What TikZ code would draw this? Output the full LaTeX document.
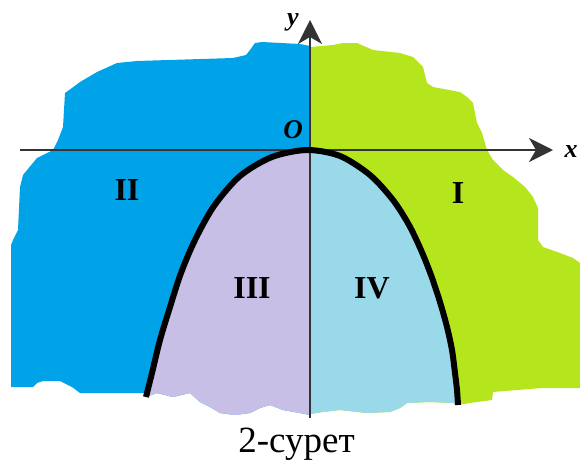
\documentclass[tikz,border=0pt]{standalone}
\usepackage{fontspec}
\setmainfont{Liberation Serif}
\usetikzlibrary{arrows.meta}
\definecolor{cblue}{RGB}{0,162,232}
\definecolor{cgreen}{RGB}{181,230,29}
\definecolor{clav}{RGB}{200,191,231}
\definecolor{cltb}{RGB}{153,217,234}
\tikzset{
  axisline/.style={draw=black!80, line width=2pt, -{Stealth[length=24pt,width=24pt,inset=7pt]}},
  curveline/.style={draw=black, line width=6pt},
  roman/.style={font=\fontsize{32}{34}\selectfont\bfseries, inner sep=0pt},
  axlabel/.style={font=\fontsize{26}{28}\selectfont\bfseries\itshape, inner sep=0pt},
}
\newcommand{\leftcurve}{(146,397) (152,373) (160,340) (170,307) (181,273) (195,240) (214,206) (240,176) (272,157) (307,150)}
\newcommand{\rightcurve}{(307,150) (340,156) (370,175) (393,200) (409,225) (421,250) (431,275) (440,302) (447,327) (452,350) (455,373) (457,390) (458,405)}
\newcommand{\wholecurve}{(146,397) (152,373) (160,340) (170,307) (181,273) (195,240) (214,206) (240,176) (272,157) (307,150) (340,156) (370,175) (393,200) (409,225) (421,250) (431,275) (440,302) (447,327) (452,350) (455,373) (457,390) (458,405)}
\begin{document}
\begin{tikzpicture}[x=1pt,y=-1pt]
\useasboundingbox (0,0) rectangle (580,461);
% blue (II) full left half
\fill[cblue] (310,46) -- (300,44) -- (262,42) -- (255,43) -- (250,50) -- (246,55) -- (233,58) -- (137,61) -- (117,63) -- (97,72) -- (80,82) -- (72,88) -- (65,93) -- (64,110) -- (63,127) -- (58,140) -- (53,150) -- (37,158) -- (23,175) -- (20,187) -- (18,230) -- (13,240) -- (11,245) -- (11,387) -- (33,387) -- (37,383) -- (43,381) -- (60,381) -- (72,387) -- (80,393) -- (144,393) -- (146,397) -- (157,393) -- (173,397) -- (190,393) -- (200,402) -- (210,407) -- (220,413) -- (235,415) -- (250,413) -- (260,408) -- (270,405) -- (283,410) -- (300,413) -- (310,415) -- cycle;
% green (I) full right half
\fill[cgreen] (310,47) -- (333,45) -- (343,43) -- (357,43) -- (373,50) -- (400,53) -- (413,57) -- (423,67) -- (427,83) -- (433,87) -- (460,92) -- (467,97) -- (473,103) -- (477,123) -- (482,133) -- (487,150) -- (493,160) -- (503,170) -- (513,177) -- (525,187) -- (533,197) -- (538,208) -- (538,240) -- (543,247) -- (560,253) -- (573,258) -- (580,263) -- (580,388) -- (542,388) -- (493,392) -- (492,400) -- (470,403) -- (458,405) -- (453,403) -- (430,402) -- (407,403) -- (400,408) -- (390,412) -- (367,413) -- (340,410) -- (323,412) -- (310,414) -- cycle;
% lavender (III)
\fill[clav] plot[smooth] coordinates {\leftcurve} -- (310,150) -- (310,415) -- (300,413) -- (283,410) -- (270,405) -- (260,408) -- (250,413) -- (235,415) -- (220,413) -- (210,407) -- (200,402) -- (190,393) -- (173,397) -- (157,393) -- cycle;
% light turquoise (IV)
\fill[cltb] plot[smooth] coordinates {\rightcurve} -- (453,403) -- (430,402) -- (407,403) -- (400,408) -- (390,412) -- (367,413) -- (340,410) -- (323,412) -- (310,414) -- (310,150) -- cycle;
% axes
\coordinate (xs) at (20,150);
\coordinate (xe) at (553,150);
\coordinate (ys) at (310,418);
\coordinate (ye) at (310,20);
\draw[axisline] (xs) -- (xe);
\draw[axisline] (ys) -- (ye);
% parabola
\draw[curveline] plot[smooth] coordinates {\wholecurve};
% labels
\node[axlabel] (ylab) at (293,22) {y};
\node[axlabel] (xlab) at (571,152) {x};
\node[axlabel, font=\fontsize{27}{29}\selectfont\bfseries\itshape] (olab) at (293,130) {O};
\node[roman] (r1) at (458,193) {I};
\node[roman] (r2) at (127,190) {II};
\node[roman] (r3) at (252,288) {III};
\node[roman] (r4) at (372,288) {IV};
\node[font=\fontsize{37}{40}\selectfont, inner sep=0pt, anchor=base] (cap) at (296.5,452) {2-сурет};
\end{tikzpicture}
\end{document}
